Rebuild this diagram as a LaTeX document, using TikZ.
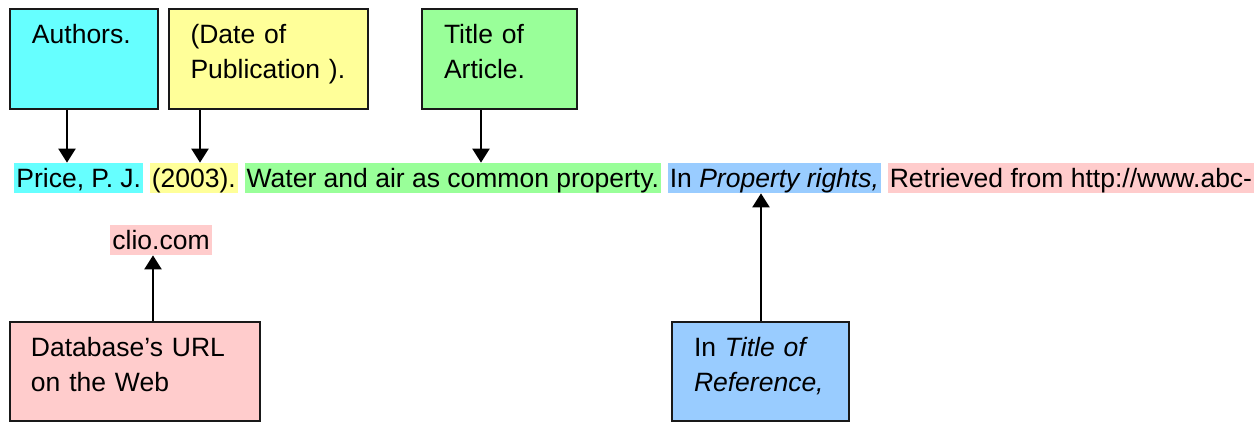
\documentclass[tikz,border=0pt]{standalone}
\usepackage{fontspec}
\setmainfont{Liberation Sans}
\usetikzlibrary{positioning,arrows.meta}

\definecolor{autcyan}{HTML}{66FFFF}
\definecolor{datagiallo}{HTML}{FFFF99}
\definecolor{titverde}{HTML}{99FF99}
\definecolor{rifblu}{HTML}{99CCFF}
\definecolor{urlrosa}{HTML}{FFCCCC}

\begin{document}
\begin{tikzpicture}[x=0.5pt, y=-0.5pt,
        font={\fontsize{13.25pt}{17.5pt}\selectfont},
        etichetta/.style={draw=black!90, line width=1pt, anchor=north west, align=left,
            inner xsep=11pt, inner ysep=0pt, text height=17.5pt, text depth=32.5pt},
        evidenza/.style={inner xsep=1pt, inner ysep=0pt, text height=12.5pt, text depth=2.5pt},
        freccia/.style={-{Triangle[width=8.6pt,length=7pt]}, line width=0.9pt}]

        \useasboundingbox (0,0) rectangle (1260,422);

        % =========================================
        % === RIQUADRI (In alto) ===
        % =========================================
        \node[etichetta, fill=autcyan, text width=52pt] (autori) at (9,8) {Authors.};
        \node[etichetta, fill=datagiallo, text width=78pt, inner xsep=10.75pt] (data) at (168,8) {(Date of\\Publication~).};
        \node[etichetta, fill=titverde, text width=55.5pt] (titolo) at (421,8) {Title of\\Article.};

        % =========================================
        % === RIFERIMENTO EVIDENZIATO ===
        % =========================================
        \node[evidenza, fill=autcyan, anchor=base west] (prezzo) at (14,188) {Price, P. J.};
        \node[evidenza, fill=datagiallo, right=3pt of prezzo] (anno) {(2003).};
        \node[evidenza, fill=titverde, right=3pt of anno] (articolo) {Water and air as common property.};
        \node[evidenza, fill=rifblu, right=3pt of articolo] (libro) {In \textit{Property rights,}};
        \node[evidenza, fill=urlrosa, right=3pt of libro] (url) {Retrieved from http://www.abc-};

        % Seconda riga
        \node[evidenza, fill=urlrosa, anchor=base west] (dominio) at (110,250) {clio.com};

        % =========================================
        % === RIQUADRI (In basso) ===
        % =========================================
        \node[etichetta, fill=urlrosa, text width=104pt, inner xsep=10.5pt, text depth=32pt] (database) at (9,321) {Database’s~URL\\on the Web};
        \node[etichetta, fill=rifblu, text width=66.5pt, text depth=32pt] (riferimento) at (671,321) {In \textit{Title of}\\\textit{Reference,}};

        % Frecce verso il testo
        \coordinate (pa) at ([xshift=29pt]autori.south west);
        \coordinate (pb) at ([xshift=16pt]data.south west);
        \coordinate (pc) at ([xshift=30pt]titolo.south west);
        \coordinate (pd) at ([xshift=72pt]database.north west);
        \coordinate (pe) at ([xshift=0.25pt]riferimento.north);

        \draw[freccia] (pa) -- (pa |- prezzo.north);
        \draw[freccia] (pb) -- (pb |- anno.north);
        \draw[freccia] (pc) -- (pc |- articolo.north);
        \draw[freccia] (pd) -- (pd |- dominio.south);
        \draw[freccia] (pe) -- (pe |- libro.south);

    \end{tikzpicture}
\end{document}
